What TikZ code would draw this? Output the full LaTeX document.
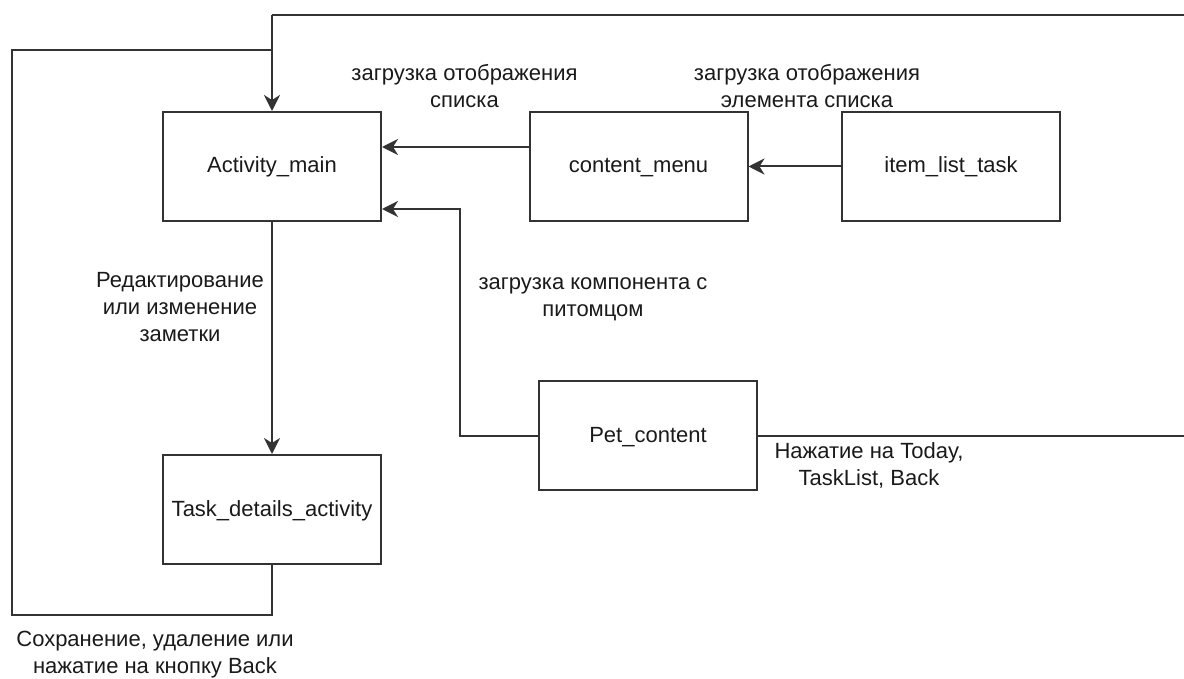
\documentclass[tikz,border=0pt]{standalone}
\usepackage{fontspec}
\setmainfont{Liberation Sans}
\usetikzlibrary{calc}
\usetikzlibrary{arrows.meta}

\definecolor{linegray}{HTML}{333333}
\definecolor{textgray}{HTML}{1A1A1A}

\begin{document}
\begin{tikzpicture}[x=0.5pt, y=-0.5pt,
	screen/.style={draw=linegray, line width=1pt, minimum width=109pt, minimum height=54.5pt, inner sep=0pt, text height=8pt, text depth=1.5pt, text=textgray, font=\fontsize{11}{13.5}\selectfont},
	note/.style={align=center, text=textgray, inner sep=0pt, font=\fontsize{11}{13.5}\selectfont},
	link/.style={draw=linegray, line width=1pt},
	go/.style={link, -{Stealth[length=8pt, width=8pt, inset=2.5pt]}}]
	\useasboundingbox (0,0) rectangle (1184,679);

	\coordinate (mainpos)	at (272,166.5);
	\coordinate (menupos)	at (638.5,166.5);
	\coordinate (itempos)	at (951,166.5);
	\coordinate (detailpos)	at (272,509.5);
	\coordinate (petpos)	at (648,435.5);

	\node[screen]	(activitymain)	at (mainpos)	{Activity\_main};
	\node[screen]	(contentmenu)	at (menupos)	{content\_menu};
	\node[screen]	(itemlist)		at (itempos)	{item\_list\_task};
	\node[screen]	(taskdetails)	at (detailpos)	{Task\_details\_activity};
	\node[screen]	(petcontent)	at (petpos)		{Pet\_content};

	% bends of the long connectors
	\coordinate (topright)	at (1200,15);
	\coordinate (topmid)	at (272,15);
	\coordinate (petright)	at (1200,435.5);
	\coordinate (petbend)	at (460,435.5);
	\coordinate (petup)		at (460,209);
	\coordinate (loopa)		at (272,615);
	\coordinate (loopb)		at (12,615);
	\coordinate (loopc)		at (12,50);
	\coordinate (loopd)		at (272,50);

	\draw[go] (contentmenu.west |- 0,147) -- (activitymain.east |- 0,147);
	\draw[go] (itemlist.west) -- (contentmenu.east);
	\draw[go] (petcontent.west) -- (petbend) -- (petup) -- (activitymain.east |- petup);
	\draw[go] (activitymain.south) -- (taskdetails.north);
	\draw[link] (petcontent.east) -- (petright) -- (topright) -- (topmid);
	\draw[go] (topmid) -- (activitymain.north);
	\draw[link] (taskdetails.south) -- (loopa) -- (loopb) -- (loopc) -- (loopd);

	\node[note]	(lbllist)	at (464.5,86.5)	{загрузка отображения\\списка};
	\node[note]	(lblitem)	at (807,86.5)	{загрузка отображения\\элемента списка};
	\node[note]	(lblpet)	at (593,299.5)	{загрузка компонента с\\питомцом};
	\node[note]	(lbledit)	at (180,307.5)	{Редактирование\\или изменение\\заметки};
	\node[note]	(lbltoday)	at (869,465.5)	{Нажатие на Today,\\TaskList, Back};
	\node[note]	(lblsave)	at (155,654.5)	{Сохранение, удаление или\\нажатие на кнопку Back};
\end{tikzpicture}
\end{document}
